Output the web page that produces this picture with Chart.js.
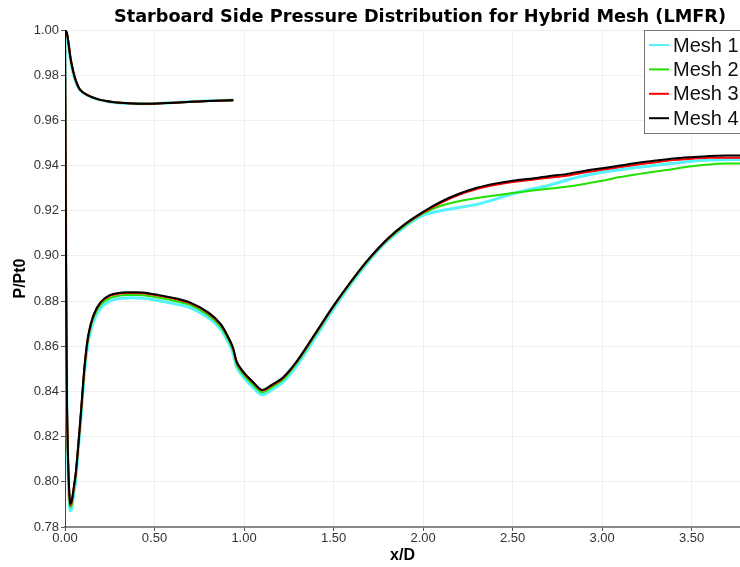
<!DOCTYPE html>
<html>
<head>
<meta charset="utf-8">
<title>Starboard Side Pressure Distribution</title>
<script src="https://cdn.jsdelivr.net/npm/chart.js@4.4.0/dist/chart.umd.min.js"></script>
<style>
  html, body { margin: 0; padding: 0; background: #fff; }
  #wrap { width: 740px; height: 567px; }
</style>
</head>
<body>
<div id="wrap"><canvas id="myChart"></canvas></div>
<script>
const chartTitle = 'Starboard Side Pressure Distribution for Hybrid Mesh (LMFR)';
const meshNames = ['Mesh 1', 'Mesh 2', 'Mesh 3', 'Mesh 4'];
const meshColors = ['#55f2ff', '#22e000', '#ff0000', '#000000'];

const xTicks = [0, 0.5, 1, 1.5, 2, 2.5, 3, 3.5];
const yTicks = [0.78, 0.8, 0.82, 0.84, 0.86, 0.88, 0.9, 0.92, 0.94, 0.96, 0.98, 1.0];

// inner (upper) branch, from the leading edge back to x/D ~ 0.94
const xUpper = [0, 0.005, 0.011, 0.02, 0.03, 0.045, 0.063, 0.085, 0.123, 0.178, 0.23, 0.29, 0.38, 0.475, 0.57, 0.661, 0.75, 0.85, 0.94];
const upperMesh1 = [0.9995, 0.9993, 0.998, 0.993, 0.987, 0.981, 0.9765, 0.9732, 0.9711, 0.9694, 0.9685, 0.9678, 0.9674, 0.9674, 0.9677, 0.9681, 0.9685, 0.9688, 0.969];
const upperMesh2 = [0.9995, 0.9995, 0.9985, 0.994, 0.988, 0.982, 0.977, 0.9735, 0.9713, 0.9695, 0.9686, 0.9679, 0.9675, 0.9674, 0.9677, 0.968, 0.9684, 0.9687, 0.9689];
const upperMesh3 = [0.9995, 0.9995, 0.9985, 0.994, 0.988, 0.982, 0.977, 0.9735, 0.9713, 0.9695, 0.9686, 0.9679, 0.9675, 0.9674, 0.9677, 0.968, 0.9684, 0.9687, 0.9689];
const upperMesh4 = [0.9995, 0.9995, 0.9985, 0.994, 0.988, 0.982, 0.977, 0.9735, 0.9713, 0.9695, 0.9686, 0.9679, 0.9675, 0.9674, 0.9677, 0.968, 0.9684, 0.9687, 0.9689];

// outer (lower) branch, from the leading edge to the end of the plot
const xLower = [0, 0.002, 0.004, 0.007, 0.011, 0.016, 0.022, 0.029, 0.037, 0.047,
  0.06, 0.075, 0.09, 0.11, 0.13, 0.16, 0.2, 0.25, 0.3, 0.35,
  0.4, 0.45, 0.5, 0.6, 0.7, 0.8, 0.87, 0.92, 0.94, 0.96,
  1.0, 1.05, 1.1, 1.15, 1.22, 1.3, 1.4, 1.5, 1.6, 1.7,
  1.8, 1.9, 2.0, 2.1, 2.2, 2.3, 2.4, 2.5, 2.6, 2.7,
  2.8, 2.9, 3.0, 3.1, 3.2, 3.3, 3.4, 3.5, 3.6, 3.7, 3.77];
const lowerMesh1 = [0.9995, 0.964, 0.922, 0.875, 0.829, 0.808, 0.794, 0.7872, 0.788, 0.7935,
  0.801, 0.815, 0.829, 0.849, 0.862, 0.8712, 0.877, 0.88, 0.8811, 0.8814,
  0.8814, 0.8812, 0.8805, 0.879, 0.877, 0.8727, 0.8675, 0.8605, 0.8565, 0.8505,
  0.846, 0.8418, 0.8385, 0.8405, 0.8443, 0.852, 0.864, 0.8765, 0.8878, 0.898,
  0.9065, 0.913, 0.918, 0.92, 0.9214, 0.9228, 0.925, 0.9275, 0.9295, 0.9312,
  0.9335, 0.9355, 0.937, 0.9381, 0.9392, 0.9401, 0.941, 0.9419, 0.9424, 0.9426, 0.9427];
const lowerMesh2 = [0.9995, 0.965, 0.924, 0.878, 0.832, 0.811, 0.796, 0.7888, 0.7895, 0.795,
  0.8025, 0.8165, 0.8305, 0.8505, 0.8635, 0.8727, 0.8784, 0.8813, 0.8824, 0.8827,
  0.8827, 0.8825, 0.8818, 0.8803, 0.8782, 0.8738, 0.8686, 0.8616, 0.8578, 0.8518,
  0.8471, 0.843, 0.8396, 0.8416, 0.8454, 0.8532, 0.8652, 0.8775, 0.8885, 0.8985,
  0.907, 0.9135, 0.9188, 0.9222, 0.9242, 0.9256, 0.9267, 0.9278, 0.9288, 0.9297,
  0.9306, 0.9318, 0.9333, 0.9349, 0.9362, 0.9374, 0.9385, 0.9397, 0.9405, 0.9409, 0.9409];
const lowerMesh3 = [0.9995, 0.965, 0.925, 0.88, 0.834, 0.813, 0.798, 0.7897, 0.7908, 0.796,
  0.8035, 0.8168, 0.8315, 0.8515, 0.8645, 0.8737, 0.8794, 0.8823, 0.8833, 0.8836,
  0.8836, 0.8834, 0.8827, 0.8812, 0.879, 0.8747, 0.8695, 0.8625, 0.8587, 0.8527,
  0.848, 0.8439, 0.8404, 0.8424, 0.8461, 0.8537, 0.8657, 0.8778, 0.8889, 0.8989,
  0.9073, 0.914, 0.9192, 0.9235, 0.927, 0.9296, 0.9314, 0.9327, 0.9336, 0.9346,
  0.9355, 0.9369, 0.9381, 0.9393, 0.9405, 0.9415, 0.9424, 0.943, 0.9434, 0.9435, 0.9435];
const lowerMesh4 = [0.9995, 0.965, 0.925, 0.88, 0.835, 0.814, 0.799, 0.7905, 0.7915, 0.7965,
  0.804, 0.817, 0.832, 0.852, 0.865, 0.874, 0.8797, 0.8826, 0.8836, 0.8839,
  0.8839, 0.8837, 0.883, 0.8815, 0.8793, 0.875, 0.8698, 0.8628, 0.859, 0.853,
  0.8483, 0.8442, 0.8407, 0.8427, 0.8464, 0.854, 0.866, 0.878, 0.889, 0.899,
  0.9075, 0.9142, 0.9195, 0.924, 0.9275, 0.9302, 0.932, 0.9333, 0.9342, 0.9353,
  0.9362, 0.9376, 0.9388, 0.94, 0.9412, 0.9422, 0.9431, 0.9437, 0.9442, 0.9444, 0.9444];

const upperSets = [upperMesh1, upperMesh2, upperMesh3, upperMesh4];
const lowerSets = [lowerMesh1, lowerMesh2, lowerMesh3, lowerMesh4];

// one polyline per mesh: upper branch walked backwards to the leading edge, then the lower branch
const surfacePoints = (upper, lower) => {
  const pts = [];
  for (let i = xUpper.length - 1; i >= 0; i--) pts.push({ x: xUpper[i], y: upper[i] });
  for (let i = 1; i < xLower.length; i++) pts.push({ x: xLower[i], y: lower[i] });
  return pts;
};

const fontFamily = '"Liberation Sans", Arial, sans-serif';

const overlay = {
  id: 'overlay',
  afterDatasetsDraw(chart) {
    const c = chart.ctx;
    c.save();
    // legend box in the upper right corner
    c.fillStyle = '#fff';
    c.fillRect(644, 30, 110, 103);
    c.strokeStyle = '#777';
    c.lineWidth = 1;
    c.strokeRect(644.5, 30.5, 110, 103);
    c.font = '20px ' + fontFamily;
    c.textBaseline = 'middle';
    c.textAlign = 'left';
    chart.data.datasets.forEach((ds, i) => {
      const y = 45 + i * 24.4;
      c.strokeStyle = ds.borderColor;
      c.lineWidth = 2;
      c.beginPath();
      c.moveTo(649, y);
      c.lineTo(669, y);
      c.stroke();
      c.fillStyle = '#111';
      c.fillText(ds.label, 673, y + 1);
    });
    // title
    c.font = 'bold 17.7px "DejaVu Sans", sans-serif';
    c.fillStyle = '#000';
    c.textAlign = 'center';
    c.fillText(chartTitle, 420, 17);
    c.restore();
  },
};

const ctx = document.getElementById('myChart');

new Chart(ctx, {
  type: 'scatter',
  data: {
    datasets: meshNames.map((name, i) => ({
      label: name,
      data: surfacePoints(upperSets[i], lowerSets[i]),
      showLine: true,
      borderColor: meshColors[i],
      backgroundColor: meshColors[i],
      borderWidth: i === 0 ? 3 : 2,
      pointRadius: 0,
      tension: 0.3,
      order: 4 - i,
    })),
  },
  options: {
    responsive: true,
    maintainAspectRatio: false,
    animation: false,
    layout: { padding: { top: 30, right: 0, left: 0, bottom: 0 } },
    plugins: {
      legend: { display: false },
      title: { display: false },
      tooltip: { enabled: false },
    },
    scales: {
      x: {
        type: 'linear',
        min: 0,
        max: 3.77,
        afterBuildTicks: (scale) => { scale.ticks = xTicks.map((v) => ({ value: v })); },
        afterFit: (scale) => { scale.height = 40; },
        ticks: {
          includeBounds: false,
          padding: 0,
          color: '#333',
          font: { family: fontFamily, size: 13 },
          callback: (v) => Number(v).toFixed(2),
        },
        grid: { color: '#efefef', tickColor: '#555', tickLength: 4 },
        border: { color: '#888', width: 2 },
        title: {
          display: true,
          text: 'x/D',
          color: '#000',
          font: { family: fontFamily, size: 16, weight: 'bold' },
          padding: { top: 0, bottom: 2 },
        },
      },
      y: {
        type: 'linear',
        min: 0.78,
        max: 1.0,
        afterBuildTicks: (scale) => { scale.ticks = yTicks.map((v) => ({ value: v })); },
        afterFit: (scale) => { scale.width = 65; },
        ticks: {
          includeBounds: false,
          padding: 2,
          color: '#333',
          font: { family: fontFamily, size: 13 },
          callback: (v) => Number(v).toFixed(2),
        },
        grid: { color: '#efefef', tickColor: '#555', tickLength: 4 },
        border: { color: '#444', width: 1 },
        title: {
          display: true,
          text: 'P/Pt0',
          color: '#000',
          font: { family: fontFamily, size: 16, weight: 'bold' },
          padding: { top: 11, bottom: 0 },
        },
      },
    },
  },
  plugins: [overlay],
});
</script>
</body>
</html>
